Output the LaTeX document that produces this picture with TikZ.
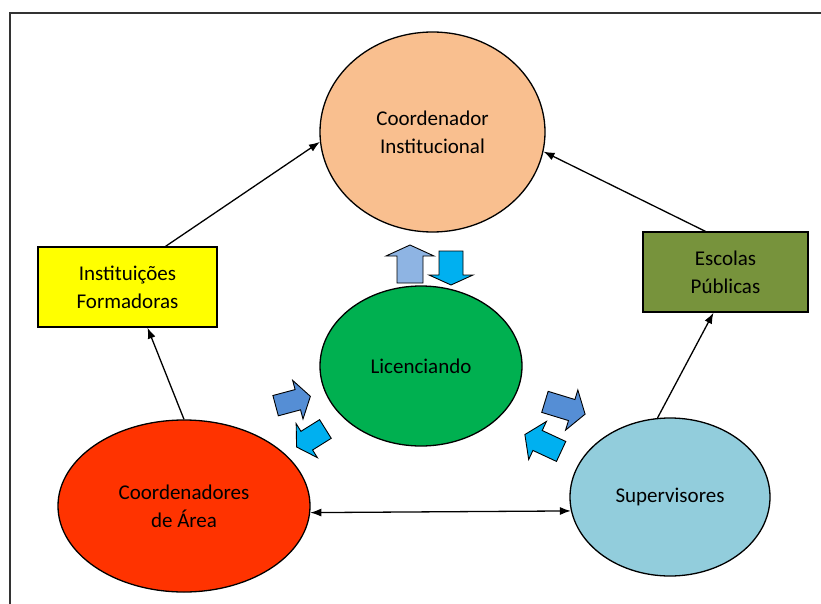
\documentclass[tikz,border=0pt]{standalone}
\usepackage{fontspec}
\setmainfont{Carlito}
\usetikzlibrary{arrows.meta,calc,shapes.geometric}
\definecolor{peach}{HTML}{F9BF8F}
\definecolor{lgreen}{HTML}{00B050}
\definecolor{redor}{HTML}{FF3300}
\definecolor{sky}{HTML}{92CDDC}
\definecolor{yel}{HTML}{FFFF00}
\definecolor{olive}{HTML}{77933C}
\definecolor{lblue}{HTML}{8EB4E3}
\definecolor{cyanb}{HTML}{00B0F0}
\definecolor{steel}{HTML}{558ED5}
\newcommand{\blockarr}[8]{%
  \draw[blockarrow, fill=#8, shift={(#1,#2)}, rotate=#3]
    (-#4/2,-#5/2) -- (#4/2-#7,-#5/2) -- (#4/2-#7,-#6/2) -- (#4/2,0)
    -- (#4/2-#7,#6/2) -- (#4/2-#7,#5/2) -- (-#4/2,#5/2) -- cycle;}
\tikzset{
  txt/.style={font=\fontsize{21}{28}\selectfont, align=center, text=black},
  ell/.style={ellipse, draw=black, line width=1.3pt, inner sep=0pt, txt},
  boxnode/.style={rectangle, draw=black, line width=1.2pt, inner sep=0pt, txt},
  conn/.style={line width=1.3pt, draw=black, -{Latex[length=11pt,width=8pt]}},
  dconn/.style={line width=1.3pt, draw=black, {Latex[length=11pt,width=8pt]}-{Latex[length=11pt,width=8pt]}},
  blockarrow/.style={draw=black, line width=0.9pt, line join=miter},
  frame/.style={line width=2pt, draw=black!80}
}
\begin{document}
\begin{tikzpicture}[x=1pt,y=-1pt]
\useasboundingbox (0,0) rectangle (821,604);
\fill[white] (0,0) rectangle (821,604);
\draw[frame] (821,13) -- (10,13) -- (10,604);

\node[ell, fill=peach, minimum width=225pt, minimum height=200pt] (coord) at (432.5,132) {Coordenador\\Institucional};
\node[ell, fill=lgreen, minimum width=202pt, minimum height=160pt] (lic) at (421,366) {Licenciando};
\node[ell, fill=redor, minimum width=252pt, minimum height=172pt] (area) at (184,506) {Coordenadores\\de Área};
\node[ell, fill=sky, minimum width=200pt, minimum height=158pt] (sup) at (670,497) {Supervisores};
\node[boxnode, fill=yel, minimum width=179pt, minimum height=80pt] (inst) at (127.5,287) {Instituições\\Formadoras};
\node[boxnode, fill=olive, minimum width=165pt, minimum height=80pt] (esc) at (725.5,272) {Escolas\\Públicas};

\draw[conn] ($(inst.north)+(38,0)$) -- (coord.185);
\draw[conn] ($(esc.north)+(-20,0)$) -- (coord.-10);
\draw[conn] (area.north) -- ($(inst.south)+(20,0)$);
\draw[conn] (sup.99) -- ($(esc.south)+(-12,0)$);
\draw[dconn] (area.-3) -- (sup.188);

\blockarr{410}{264}{90}{38}{26}{48}{11}{lblue}
\blockarr{451}{268}{-90}{34}{24}{44}{10}{cyanb}
\blockarr{293}{401}{15}{36}{21}{40}{13}{steel}
\blockarr{311}{438}{212}{34}{22}{40}{12}{cyanb}
\blockarr{565}{408}{-17}{42}{22}{42}{14}{steel}
\blockarr{543}{443}{155}{40}{22}{42}{14}{cyanb}
\end{tikzpicture}
\end{document}
